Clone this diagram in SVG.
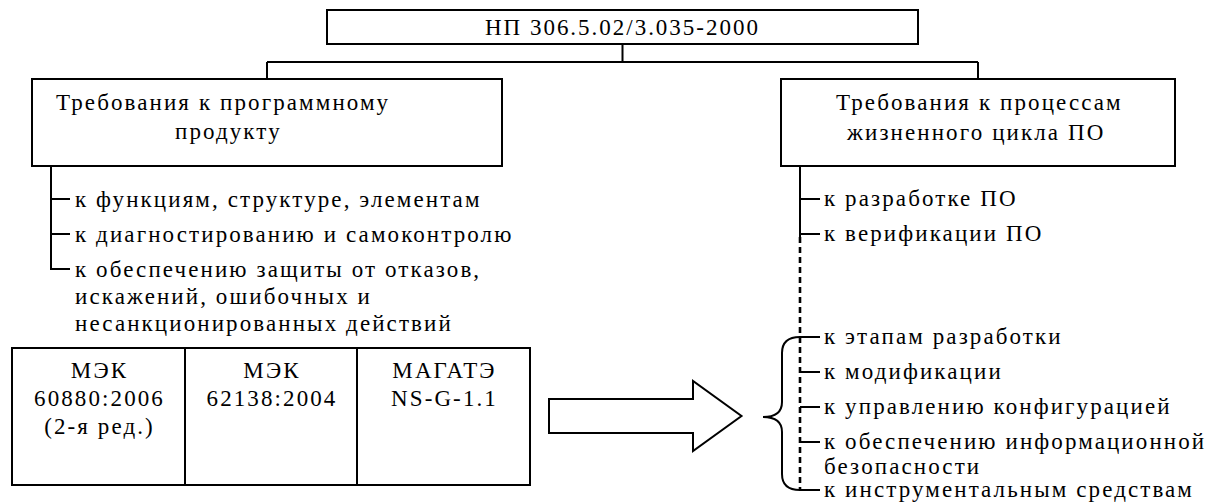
<svg xmlns="http://www.w3.org/2000/svg" width="1223" height="504" viewBox="0 0 1223 504">
<style>
  .box { fill: #fff; stroke: #000; stroke-width: 2; }
  .ln { fill: none; stroke: #000; stroke-width: 2; }
  .dash { fill: none; stroke: #000; stroke-width: 2.6; stroke-dasharray: 6 4; }
  text { font-family: "Liberation Serif", "Times New Roman", serif; font-size: 23px; letter-spacing: 2.1px; fill: #000; }
  .c { text-anchor: middle; }
</style>
<rect width="1223" height="504" fill="#fff"/>
<g id="connectors">
  <path class="ln" d="M622.5 44 V62 M267 62 H978 M267 62 V79 M978 62 V79"/>
  <path class="ln" d="M51 166 V269 H70 M51 199 H70 M51 234 H70"/>
  <path class="ln" d="M800 166 V237 M800 199 H820 M800 234 H820"/>
  <path class="dash" d="M800 237 V490"/>
  <path class="ln" d="M800 337 H820 M800 372 H820 M800 407 H820 M800 442 H820 M800 490 H820"/>
  <path class="ln" d="M800 337 Q782 337 782 353 V402 Q782 417 763 417 Q782 417 782 432 V474 Q782 490 800 490"/>
  <path class="ln" d="M549 399 H693 V381 L741.5 416 L693 451 V433 H549 Z"/>
</g>
<g id="n-top">
  <rect class="box" x="327" y="10" width="591" height="34"/>
  <text x="485" y="35" textLength="275" lengthAdjust="spacing">НП 306.5.02/3.035-2000</text>
</g>
<g id="n-left">
  <rect class="box" x="32" y="79" width="470" height="87"/>
  <text x="56" y="110">Требования к программному</text>
  <text x="175" y="139">продукту</text>
</g>
<g id="n-right">
  <rect class="box" x="781" y="79" width="394" height="87"/>
  <text x="836" y="110">Требования к процессам</text>
  <text x="847" y="140">жизненного цикла ПО</text>
</g>
<g id="n-left-list">
  <text x="75" y="207">к функциям, структуре, элементам</text>
  <text x="75" y="242">к диагностированию и самоконтролю</text>
  <text x="75" y="277">к обеспечению защиты от отказов,</text>
  <text x="75" y="304">искажений, ошибочных и</text>
  <text x="75" y="331">несанкционированных действий</text>
</g>
<g id="n-right-list">
  <text x="824" y="206">к разработке ПО</text>
  <text x="824" y="241">к верификации ПО</text>
  <text x="824" y="344">к этапам разработки</text>
  <text x="824" y="379">к модификации</text>
  <text x="824" y="414">к управлению конфигурацией</text>
  <text x="824" y="449">к обеспечению информационной</text>
  <text x="824" y="474">безопасности</text>
  <text x="824" y="497">к инструментальным средствам</text>
</g>
<g id="n-table">
  <rect class="box" x="12" y="348" width="518" height="137"/>
  <path class="ln" d="M185 348 V485 M357 348 V485"/>
  <text class="c" x="99.5" y="378">МЭК</text>
  <text class="c" x="99.5" y="406">60880:2006</text>
  <text class="c" x="99.5" y="434">(2-я ред.)</text>
  <text class="c" x="272" y="378">МЭК</text>
  <text class="c" x="272" y="406">62138:2004</text>
  <text class="c" x="444.5" y="378">МАГАТЭ</text>
  <text class="c" x="444.5" y="406">NS-G-1.1</text>
</g>
</svg>
